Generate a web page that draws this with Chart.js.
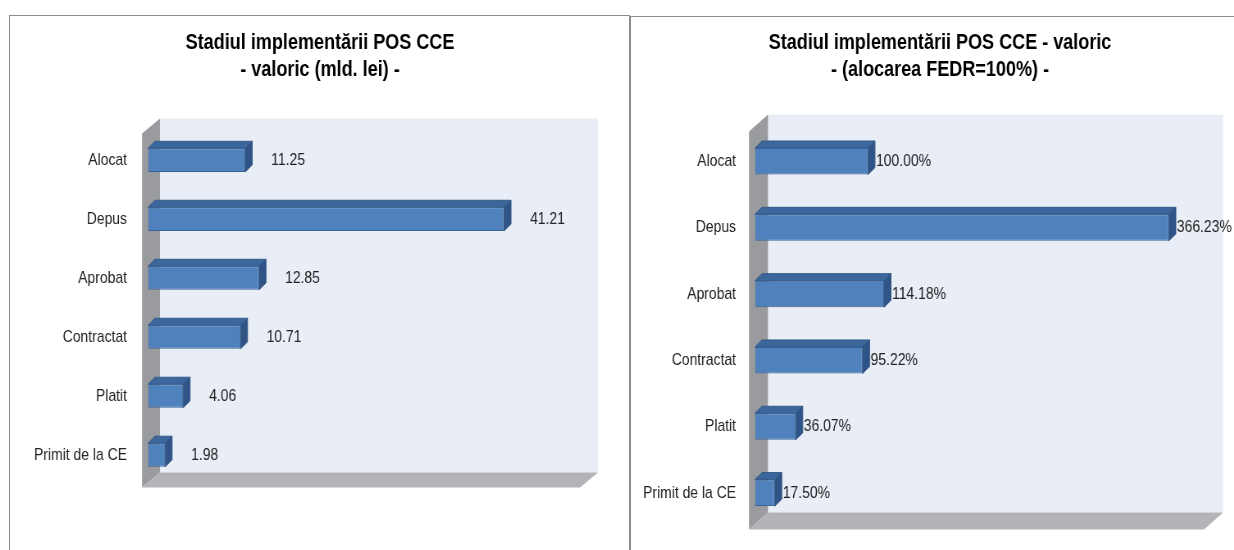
<!DOCTYPE html>
<html>
<head>
<meta charset="utf-8">
<script src="https://cdn.jsdelivr.net/npm/chart.js@4.4.1/dist/chart.umd.min.js"></script>
<style>
  body { margin: 0; background: #fff; }
  .pagina { position: relative; width: 1234px; height: 550px; overflow: hidden; }
  .panou { position: absolute; border: 1.5px solid #8c8c8c; border-bottom: none; }
  #panouStanga { left: 9px; top: 15px; width: 619px; height: 560px; }
  #panouDreapta { left: 630px; top: 16px; width: 640px; height: 560px; border-right: none; }
  canvas { position: absolute; top: 0; height: 550px; }
</style>
</head>
<body>
<div class="pagina">
  <div class="panou" id="panouStanga"></div>
  <div class="panou" id="panouDreapta"></div>
  <canvas id="graficStanga" style="left:0; width:630px; height:550px"></canvas>
  <canvas id="graficDreapta" style="left:630px; width:604px; height:550px"></canvas>
</div>
<script>
// date
const categorii = ['Alocat', 'Depus', 'Aprobat', 'Contractat', 'Platit', 'Primit de la CE'];
const valoriMld = [11.25, 41.21, 12.85, 10.71, 4.06, 1.98];
const valoriProcent = [100.00, 366.23, 114.18, 95.22, 36.07, 17.50];
const titluStanga = ['Stadiul implementării POS CCE', '- valoric (mld. lei) -'];
const titluDreapta = ['Stadiul implementării POS CCE - valoric', '- (alocarea FEDR=100%) -'];

// textul din original e "ingust" (Arial Narrow / Calibri) -> canvasul e desenat
// mai lat si strans pe orizontala cu CSS
const INGUST = 0.82;
const fontText = "'Liberation Sans', Arial, sans-serif";

// peretii 3D (perete lateral, fundal, podea)
const pereti = {
  id: 'pereti',
  beforeDatasetsDraw(chart, args, o) {
    const ctx = chart.ctx;
    const { left: L, right: R, top: T, bottom: B } = chart.chartArea;
    const fx = L - o.stanga, bx = fx + o.dx;
    const fTop = T + o.jos, bTop = fTop - o.dy;
    const fBot = B + o.jos, bBot = fBot - o.dy;
    const fR = R - o.dreapta, bR = fR + o.dx;
    ctx.save();
    // fundal
    ctx.fillStyle = '#e9edf6';
    ctx.fillRect(bx, bTop, bR - bx, bBot - bTop);
    // perete lateral
    ctx.fillStyle = '#9a9b9e';
    ctx.beginPath();
    ctx.moveTo(fx, fTop); ctx.lineTo(bx, bTop); ctx.lineTo(bx, bBot); ctx.lineTo(fx, fBot);
    ctx.closePath(); ctx.fill();
    // podea
    ctx.fillStyle = '#b2b4b8';
    ctx.beginPath();
    ctx.moveTo(fx, fBot); ctx.lineTo(bx, bBot); ctx.lineTo(bR, bBot); ctx.lineTo(fR, fBot);
    ctx.closePath(); ctx.fill();
    ctx.restore();
  }
};

// fetele de sus / laterale ale barelor + etichetele de valori
const bare3d = {
  id: 'bare3d',
  afterDatasetsDraw(chart, args, o) {
    const ctx = chart.ctx;
    const dx = o.dx, dy = 7;
    const meta = chart.getDatasetMeta(0);
    const valori = chart.data.datasets[0].data;
    ctx.save();
    meta.data.forEach((bar, i) => {
      const { x, y, base, height } = bar.getProps(['x', 'y', 'base', 'height'], true);
      const sus = y - height / 2, jos = y + height / 2;
      ctx.lineWidth = 1;
      ctx.strokeStyle = '#355a88';
      ctx.fillStyle = '#3c679c';
      ctx.beginPath();
      ctx.moveTo(base, sus); ctx.lineTo(base + dx, sus - dy); ctx.lineTo(x + dx, sus - dy); ctx.lineTo(x, sus);
      ctx.closePath(); ctx.fill(); ctx.stroke();
      ctx.fillStyle = '#2f5485';
      ctx.beginPath();
      ctx.moveTo(x, sus); ctx.lineTo(x + dx, sus - dy); ctx.lineTo(x + dx, jos - dy); ctx.lineTo(x, jos);
      ctx.closePath(); ctx.fill(); ctx.stroke();

      ctx.fillStyle = '#222';
      ctx.font = '17px ' + fontText;
      ctx.textAlign = 'left';
      ctx.textBaseline = 'middle';
      ctx.fillText(o.format(valori[i]), x + o.offset, y);
    });
    ctx.restore();
  }
};

// axele nu cer spatiu in plus sus/jos
function faraPadding(scale) {
  scale.paddingTop = 0;
  scale.paddingBottom = 0;
}

function grafic(id, valori, titlu, s) {
  const canvas = document.getElementById(id);
  const latimeCss = parseFloat(canvas.style.width);
  canvas.width = Math.round(latimeCss / INGUST);
  canvas.height = 550;
  const k = latimeCss / canvas.width;
  const px = v => v / k;   // pixeli de ecran -> pixeli interni (doar orizontal)

  return new Chart(canvas, {
    type: 'bar',
    data: {
      labels: categorii,
      datasets: [{
        data: valori,
        backgroundColor: '#4f81bd',
        borderColor: '#3a6395',
        borderWidth: 1,
        borderSkipped: false,
        categoryPercentage: 1,
        barPercentage: 0.4
      }]
    },
    options: {
      indexAxis: 'y',
      responsive: false,
      devicePixelRatio: 1,
      animation: false,
      layout: { padding: { left: px(s.padL), right: px(s.padR), top: 0, bottom: s.padB } },
      plugins: {
        legend: { display: false },
        tooltip: { enabled: false },
        title: {
          display: true,
          text: titlu,
          color: '#000',
          font: { family: fontText, size: 22, weight: 'bold', lineHeight: 1.23 },
          padding: { top: 29.5, bottom: s.titluJos }
        },
        pereti: { stanga: px(6), dx: px(s.adanc), dy: s.adancY, jos: s.jos, dreapta: px(s.dreapta) },
        bare3d: { dx: px(7), offset: px(s.offset), format: s.format }
      },
      scales: {
        x: { display: false, min: 0, max: s.max },
        y: {
          afterFit(scale) { scale.width = px(s.latimeAx); faraPadding(scale); },
          grid: { display: false, drawTicks: false },
          border: { display: false },
          ticks: { color: '#222', padding: px(s.padTick), font: { family: fontText, size: 17 } }
        },
        // spatiu gol in dreapta zonei de desen
        margine: {
          type: 'linear',
          position: 'right',
          afterFit(scale) { scale.width = px(s.margineDr); faraPadding(scale); },
          grid: { display: false, drawTicks: false },
          border: { display: false },
          ticks: { display: false }
        }
      }
    },
    plugins: [pereti, bare3d]
  });
}

grafic('graficStanga', valoriMld, titluStanga, {
  max: 50, padL: 10, padR: 0, margineDr: 50, padB: 65.5, titluJos: 47, latimeAx: 138, padTick: 21,
  adanc: 18, adancY: 15, jos: 3, dreapta: 0,
  offset: 26, format: v => v.toFixed(2)
});

grafic('graficDreapta', valoriProcent, titluDreapta, {
  max: 400, padL: 0, padR: -16, margineDr: 43, padB: 24, titluJos: 44.5, latimeAx: 125, padTick: 19,
  adanc: 19, adancY: 17, jos: 3.5, dreapta: 3,
  offset: 8, format: v => v.toFixed(2) + '%'
});
</script>
</body>
</html>
